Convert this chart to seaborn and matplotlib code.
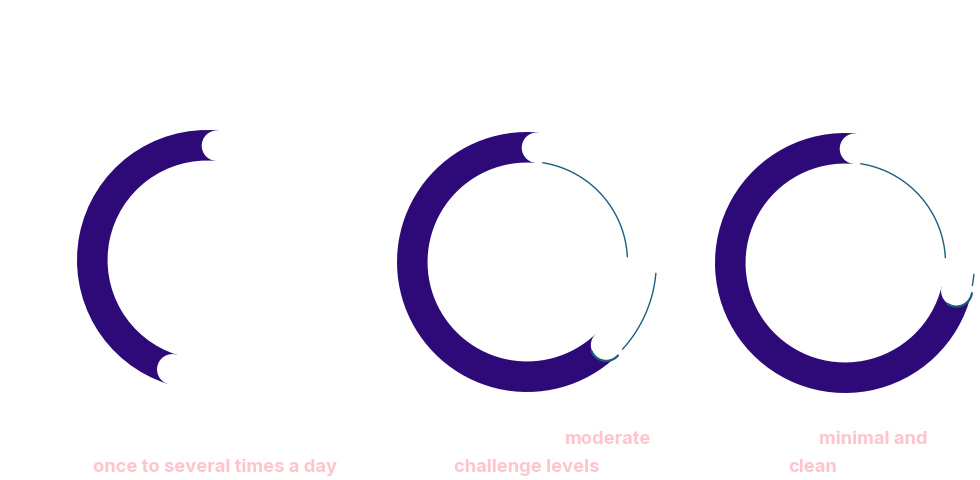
import numpy as np
import matplotlib
matplotlib.use("Agg")
import matplotlib.pyplot as plt
import seaborn as sns
from matplotlib.patches import Circle

sns.set_theme(style="white")
plt.rcParams['font.family'] = ['Inter', 'DejaVu Sans']

# data
labels_top = ["", "moderate", "minimal and"]
labels_bottom = ["once to several times a day", "challenge levels", "clean"]
values = [0.465, 0.635, 0.725]

purple = "#2E0A78"
teal = "#1B5E7E"
pink = "#FFC4CE"

W, H = 980, 480
fig = plt.figure(figsize=(W / 100, H / 100), dpi=100)
fig.patch.set_facecolor("white")

centers = [(207, 260), (527, 262), (845, 263)]
R = 130.0
ring_w = 0.235
r_mid = 1 - ring_w / 2
start = 85

for i, (v, (cx, cy)) in enumerate(zip(values, centers)):
    ax = fig.add_axes([(cx - R) / W, (H - cy - R) / H, 2 * R / W, 2 * R / H])
    ax.pie([v, 1 - v], colors=[purple, "white"], startangle=start, counterclock=True,
           wedgeprops=dict(width=ring_w, linewidth=0), radius=1)
    ax.set_xlim(-1, 1)
    ax.set_ylim(-1, 1)
    ax.set_aspect("equal")
    ax.axis("off")
    a0 = np.deg2rad(start)
    a1 = np.deg2rad(start + 360 * v)
    ex, ey = r_mid * np.cos(a1), r_mid * np.sin(a1)
    if i > 0:
        # thin teal edges of the remaining track
        t_in = np.linspace(np.deg2rad(start - 4), np.deg2rad(3), 80)
        rr = 1 - ring_w + 0.008
        ax.plot(rr * np.cos(t_in), rr * np.sin(t_in),
                color=teal, lw=1.0, clip_on=False, zorder=5)
        end_deg = start + 360 * v - 360
        t_out = np.linspace(np.deg2rad(-5), np.deg2rad(end_deg + 4), 80)
        ax.plot(0.995 * np.cos(t_out), 0.995 * np.sin(t_out),
                color=teal, lw=1.0, clip_on=False, zorder=5)
    for a in (a0, a1):
        c = Circle((r_mid * np.cos(a), r_mid * np.sin(a)), ring_w / 2,
                   color="white", lw=0, zorder=4)
        ax.add_patch(c)
    if i > 0:
        # teal rim on the purple-facing side of the end cap
        phi = np.arctan2(-np.cos(a1), np.sin(a1))
        t_cap = np.linspace(phi - np.deg2rad(20), phi + np.deg2rad(95), 40)
        rc = ring_w / 2 + 0.004
        ax.plot(ex + rc * np.cos(t_cap), ey + rc * np.sin(t_cap),
                color=teal, lw=1.6, solid_capstyle="round", zorder=5)

sns.despine(fig=fig, left=True, bottom=True)

# labels
kw = dict(ha="center", va="center", color=pink, fontsize=13.2, fontweight="bold")
fig.text(215 / W, 1 - 467 / H, labels_bottom[0], **kw)
fig.text(608 / W, 1 - 440 / H, labels_top[1], **kw)
fig.text(527 / W, 1 - 467 / H, labels_bottom[1], **kw)
fig.text(873 / W, 1 - 440 / H, labels_top[2], **kw)
fig.text(813 / W, 1 - 467 / H, labels_bottom[2], **kw)

fig.savefig("out.png", dpi=100, facecolor="white")
